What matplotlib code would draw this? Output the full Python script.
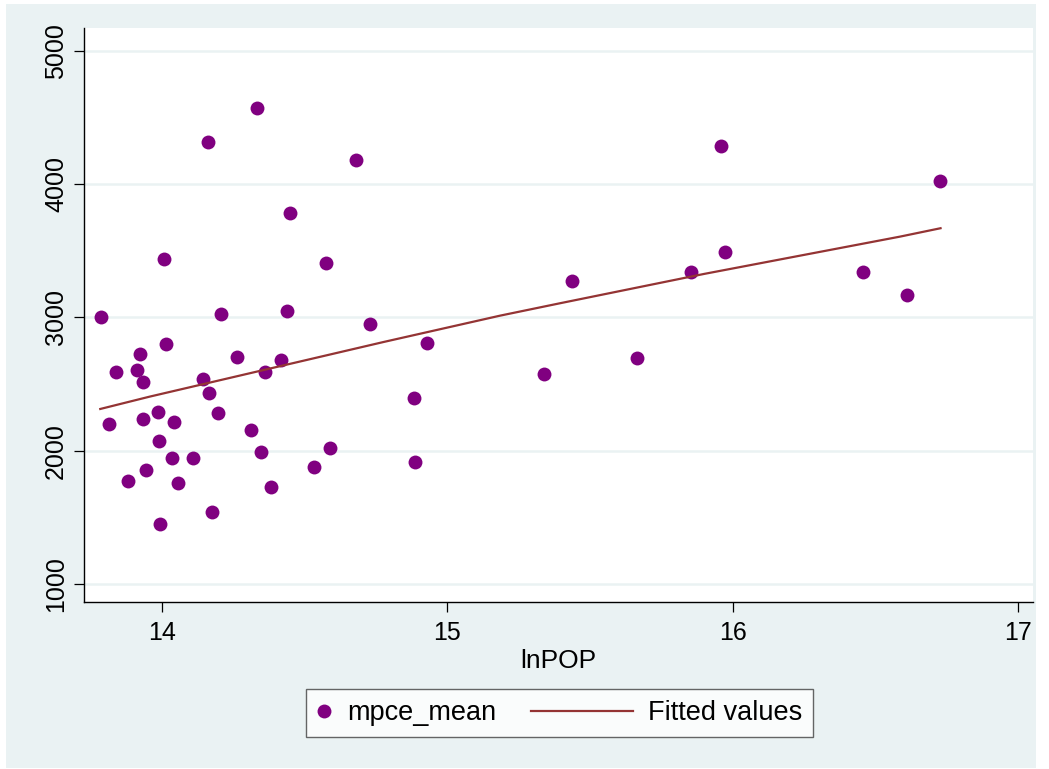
import numpy as np
import matplotlib
matplotlib.use("Agg")
import matplotlib.pyplot as plt
from matplotlib.lines import Line2D
from matplotlib.patches import Rectangle
from matplotlib.legend_handler import HandlerLine2D

plt.rcParams['font.family'] = ['Liberation Sans', 'DejaVu Sans']

# values
lnpop = [14.334, 14.162, 14.681, 14.450, 14.009, 14.575, 13.785, 14.206, 14.437, 14.731,
         14.015, 13.922, 13.838, 13.911, 13.935, 14.262, 14.416, 14.363, 14.145, 14.166,
         14.196, 13.815, 13.933, 13.985, 14.044, 13.991, 14.312, 14.346, 14.588, 14.034,
         14.109, 14.533, 13.944, 13.880, 14.055, 14.381, 14.174, 13.995,
         15.436, 15.853, 14.929, 14.882, 15.339, 15.664, 14.888,
         15.958, 16.727, 15.975, 16.457, 16.610]
mpce_mean = [4568, 4315, 4182, 3780, 3437, 3407, 3000, 3025, 3047, 2948,
             2800, 2722, 2587, 2607, 2517, 2700, 2680, 2590, 2537, 2432,
             2283, 2200, 2237, 2292, 2215, 2075, 2152, 1987, 2022, 1947,
             1947, 1879, 1855, 1774, 1757, 1725, 1537, 1452,
             3275, 3342, 2805, 2395, 2575, 2692, 1912,
             4285, 4022, 3488, 3338, 3165]
# fitted values line, read at a few points along it
fit_x = [13.784, 13.958, 14.778, 15.185, 15.395, 15.900, 16.587, 16.729]
fit_y = [2312, 2405, 2815, 3012, 3105, 3325, 3605, 3668]
xticks = [14, 15, 16, 17]
yticks = [1000, 2000, 3000, 4000, 5000]

bg = '#EAF2F3'
purple = '#800080'
maroon = '#943434'

W, H = 1049, 769
fig = plt.figure(figsize=(W / 100, H / 100), dpi=100, facecolor='white')
fig.patches.append(Rectangle((6 / W, 1 / H), 1030 / W, 764 / H, transform=fig.transFigure,
                             facecolor=bg, edgecolor='none', zorder=-10))

ax = fig.add_axes([84 / W, (H - 602) / H, (1033 - 84) / W, (602 - 28) / H])
ax.set_facecolor('white')
ax.scatter(lnpop, mpce_mean, s=100, color=purple, linewidths=0, zorder=3, label='mpce_mean')
ax.plot(fit_x, fit_y, color=maroon, lw=1.6, zorder=4, label='Fitted values')

ax.set_xlim(13.727, 17.053)
ax.set_ylim(864, 5170)
ax.set_xticks(xticks)
ax.set_yticks(yticks)
ax.set_xticklabels([str(t) for t in xticks])
ax.set_yticklabels([str(t) for t in yticks])
for lab in ax.get_yticklabels():
    lab.set_rotation(90)
    lab.set_va('center')
ax.tick_params(axis='both', labelsize=18, length=7.5, width=0.9, color='black', direction='out')
ax.tick_params(axis='x', pad=6)
ax.tick_params(axis='y', pad=4)
ax.grid(axis='y', color=bg, lw=1.8)
ax.set_axisbelow(True)
for s in ['top', 'right']:
    ax.spines[s].set_visible(False)
for s in ['left', 'bottom']:
    ax.spines[s].set_linewidth(1.0)
    ax.spines[s].set_color('black')
ax.set_xlabel('lnPOP', fontsize=19, labelpad=3)


class WideLine(HandlerLine2D):
    # legend line drawn longer than the marker handle
    def create_artists(self, legend, orig_handle, xdescent, ydescent, width, height, fontsize, trans):
        yy = height / 2 - ydescent
        ln = Line2D([-xdescent - 3.2 * fontsize, width - xdescent], [yy, yy],
                    color=orig_handle.get_color(), lw=orig_handle.get_linewidth())
        ln.set_transform(trans)
        return [ln]


h_pt = Line2D([], [], marker='o', ls='none', color=purple, markersize=10, markeredgewidth=0)
h_ln = Line2D([], [], color=maroon, lw=1.6)
leg = fig.legend([h_pt, h_ln], ['mpce_mean', 'Fitted values'], ncol=2, loc='center',
                 bbox_to_anchor=(559.5 / W, 1 - 713 / H), fontsize=19.5, frameon=True,
                 fancybox=False, edgecolor='#404040', handlelength=0.55, handletextpad=0.57,
                 columnspacing=4.5, borderpad=0.4, handler_map={h_ln: WideLine()})
leg.get_frame().set_linewidth(1.0)
leg.get_frame().set_facecolor('white')

fig.savefig('out.png', dpi=100, facecolor='white')
